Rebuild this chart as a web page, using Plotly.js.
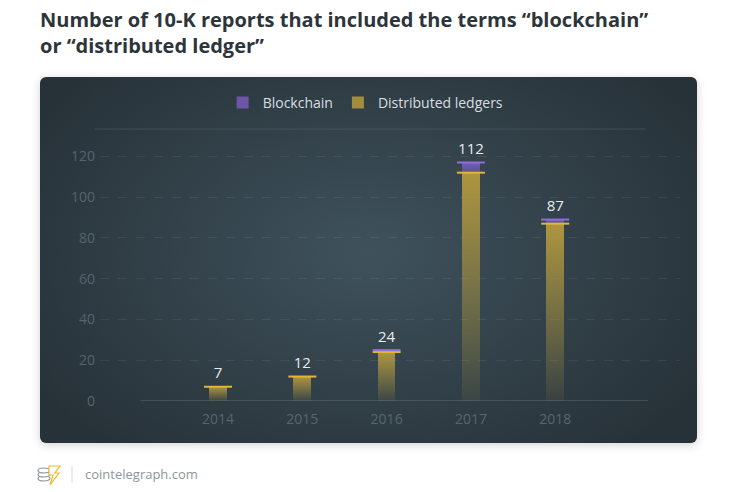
<!DOCTYPE html>
<html>
<head>
<meta charset="utf-8">
<script src="https://cdn.plot.ly/plotly-3.0.1.min.js"></script>
<style>
  html, body { margin: 0; padding: 0; background: #ffffff; }
  #wrap { position: relative; width: 740px; height: 492px; }
  #panel {
    position: absolute; left: 40px; top: 77px; width: 657px; height: 366px;
    border-radius: 6px;
    background: radial-gradient(ellipse 60% 70% at 50% 48%, #3f525c 0%, #34434c 45%, #273238 100%);
    box-shadow: 0 2px 10px rgba(0,0,0,0.18);
  }
  #chart { position: absolute; left: 0; top: 0; width: 740px; height: 492px; }
</style>
</head>
<body>
<div id="wrap">
  <div id="panel"></div>
  <div id="chart"></div>
</div>
<script>
// values
const years = ['2014', '2015', '2016', '2017', '2018'];
const ledgerCounts = [7, 12, 24, 112, 87];
const blockchainCounts = [0, 0, 1, 5, 2];
const yTicks = [0, 20, 40, 60, 80, 100, 120];

const stackTops = years.map((y, i) => ledgerCounts[i] + blockchainCounts[i]);

// plot area in pixels, used to place the title and footer bits
const L = 100, R = 680, T = 136, B = 401;
const px = x => (x - L) / (R - L);
const py = y => (B - y) / (B - T);

const traces = [
  {
    name: 'Distributed ledgers',
    type: 'bar',
    x: years,
    y: ledgerCounts,
    width: 0.21,
    marker: { color: '#a38c3c', line: { width: 0 } },
    hoverinfo: 'skip'
  },
  {
    name: 'Blockchain',
    type: 'bar',
    x: years,
    y: blockchainCounts,
    width: 0.21,
    marker: { color: '#6d56a8', line: { width: 0 } },
    hoverinfo: 'skip'
  },
  // bright edge on top of each ledger bar
  {
    type: 'scatter',
    mode: 'markers',
    x: years,
    y: ledgerCounts,
    showlegend: false,
    marker: { symbol: 'line-ew', size: 20, line: { color: '#e4b637', width: 2 } },
    hoverinfo: 'skip'
  },
  // bright edge on top of the blockchain caps
  {
    type: 'scatter',
    mode: 'markers',
    x: years.filter((y, i) => blockchainCounts[i] > 0),
    y: stackTops.filter((v, i) => blockchainCounts[i] > 0),
    showlegend: false,
    marker: { symbol: 'line-ew', size: 20, line: { color: '#8f6ddb', width: 2 } },
    hoverinfo: 'skip'
  },
  // value labels (invisible marker just pushes the text up a bit)
  {
    type: 'scatter',
    mode: 'markers+text',
    x: years,
    y: stackTops,
    text: ledgerCounts.map(String),
    textposition: 'top center',
    textfont: { family: 'Open Sans', size: 15, color: '#e8ebed' },
    marker: { size: 6, opacity: 0 },
    showlegend: false,
    hoverinfo: 'skip'
  }
];

const layout = {
  width: 740,
  height: 492,
  paper_bgcolor: 'rgba(0,0,0,0)',
  plot_bgcolor: 'rgba(0,0,0,0)',
  margin: { l: L, r: 740 - R, t: T, b: 492 - B },
  barmode: 'stack',
  font: { family: 'Open Sans', color: '#d9dee1' },
  showlegend: true,
  legend: {
    orientation: 'h',
    x: 0.458, xanchor: 'center',
    y: 1.125, yanchor: 'middle',
    traceorder: 'reversed',
    font: { family: 'Open Sans', size: 14, color: '#d9dee1' },
    bgcolor: 'rgba(0,0,0,0)'
  },
  xaxis: {
    type: 'category',
    range: [-1.4, 5.48],
    showgrid: false,
    zeroline: false,
    showline: false,
    ticks: '',
    ticklabelstandoff: 8,
    tickfont: { family: 'Open Sans', size: 14, color: '#56666f' },
    fixedrange: true
  },
  yaxis: {
    range: [0, 130],
    tickvals: yTicks,
    showgrid: true,
    gridcolor: 'rgba(255,255,255,0.07)',
    griddash: 'dash',
    gridwidth: 1,
    zeroline: false,
    showline: false,
    ticks: '',
    ticklabelstandoff: 4,
    tickfont: { family: 'Open Sans', size: 14, color: '#536470' },
    fixedrange: true
  },
  shapes: [
    // baseline
    { type: 'line', xref: 'x', yref: 'y', x0: -0.92, x1: 5.1, y0: 0, y1: 0,
      line: { color: 'rgba(255,255,255,0.16)', width: 1.5 }, layer: 'below' },
    // faint rule under the legend
    { type: 'line', xref: 'paper', yref: 'paper', x0: px(95), x1: px(645), y0: py(129), y1: py(129),
      line: { color: 'rgba(255,255,255,0.07)', width: 1.5 } },
    // footer separator
    { type: 'line', xref: 'paper', yref: 'paper', x0: px(72), x1: px(72), y0: py(466), y1: py(483),
      line: { color: '#d6d9db', width: 1 } },
    // coin stack icon
    { type: 'circle', xref: 'paper', yref: 'paper', x0: px(38), x1: px(50), y0: py(481), y1: py(476),
      line: { color: '#8e969a', width: 1.2 }, fillcolor: '#ffffff' },
    { type: 'circle', xref: 'paper', yref: 'paper', x0: px(38), x1: px(50), y0: py(477), y1: py(472),
      line: { color: '#8e969a', width: 1.2 }, fillcolor: '#ffffff' },
    { type: 'circle', xref: 'paper', yref: 'paper', x0: px(38), x1: px(50), y0: py(473), y1: py(468),
      line: { color: '#8e969a', width: 1.2 }, fillcolor: '#ffffff' },
    { type: 'path', xref: 'paper', yref: 'paper',
      path: 'M ' + px(49) + ' ' + py(466) + ' L ' + px(60) + ' ' + py(466) + ' L ' + px(55) + ' ' + py(473) +
            ' L ' + px(59) + ' ' + py(473) + ' L ' + px(50) + ' ' + py(485) + ' L ' + px(53) + ' ' + py(475) +
            ' L ' + px(49) + ' ' + py(475) + ' Z',
      line: { color: '#f0b72f', width: 1.2 }, fillcolor: '#ffffff' }
  ],
  annotations: [
    // chart title
    { text: '<b>Number of 10-K reports that included the terms “blockchain”<br>or “distributed ledger”</b>',
      xref: 'paper', yref: 'paper', x: px(38), y: py(4),
      xanchor: 'left', yanchor: 'top', align: 'left', showarrow: false,
      font: { family: 'Open Sans', size: 20, color: '#2d353a' } },
    { text: 'cointelegraph.com', xref: 'paper', yref: 'paper', x: px(83), y: py(474),
      xanchor: 'left', yanchor: 'middle', showarrow: false,
      font: { family: 'Open Sans', size: 13, color: '#8d9599' } }
  ]
};

Plotly.newPlot('chart', traces, layout, { displayModeBar: false, staticPlot: true }).then(gd => {
  // fade the bars towards the baseline like the original
  const svg = gd.querySelector('.main-svg');
  const ns = 'http://www.w3.org/2000/svg';
  let defs = svg.querySelector('defs');
  if (!defs) { defs = document.createElementNS(ns, 'defs'); svg.insertBefore(defs, svg.firstChild); }
  const addGrad = (id, color, top, bottom) => {
    const g = document.createElementNS(ns, 'linearGradient');
    g.setAttribute('id', id);
    g.setAttribute('x1', '0'); g.setAttribute('y1', '0');
    g.setAttribute('x2', '0'); g.setAttribute('y2', '1');
    [[0, top], [1, bottom]].forEach(([o, a]) => {
      const s = document.createElementNS(ns, 'stop');
      s.setAttribute('offset', o);
      s.setAttribute('stop-color', color);
      s.setAttribute('stop-opacity', a);
      g.appendChild(s);
    });
    defs.appendChild(g);
  };
  addGrad('ledgerFade', '#b39a3e', 0.95, 0.08);
  addGrad('chainFade', '#7a5fc0', 0.95, 0.5);
  const barTraces = gd.querySelectorAll('.barlayer .trace');
  if (barTraces[0]) barTraces[0].querySelectorAll('path').forEach(p => { p.style.fill = 'url(#ledgerFade)'; p.style.fillOpacity = 1; });
  if (barTraces[1]) barTraces[1].querySelectorAll('path').forEach(p => { p.style.fill = 'url(#chainFade)'; p.style.fillOpacity = 1; });
});
</script>
</body>
</html>
